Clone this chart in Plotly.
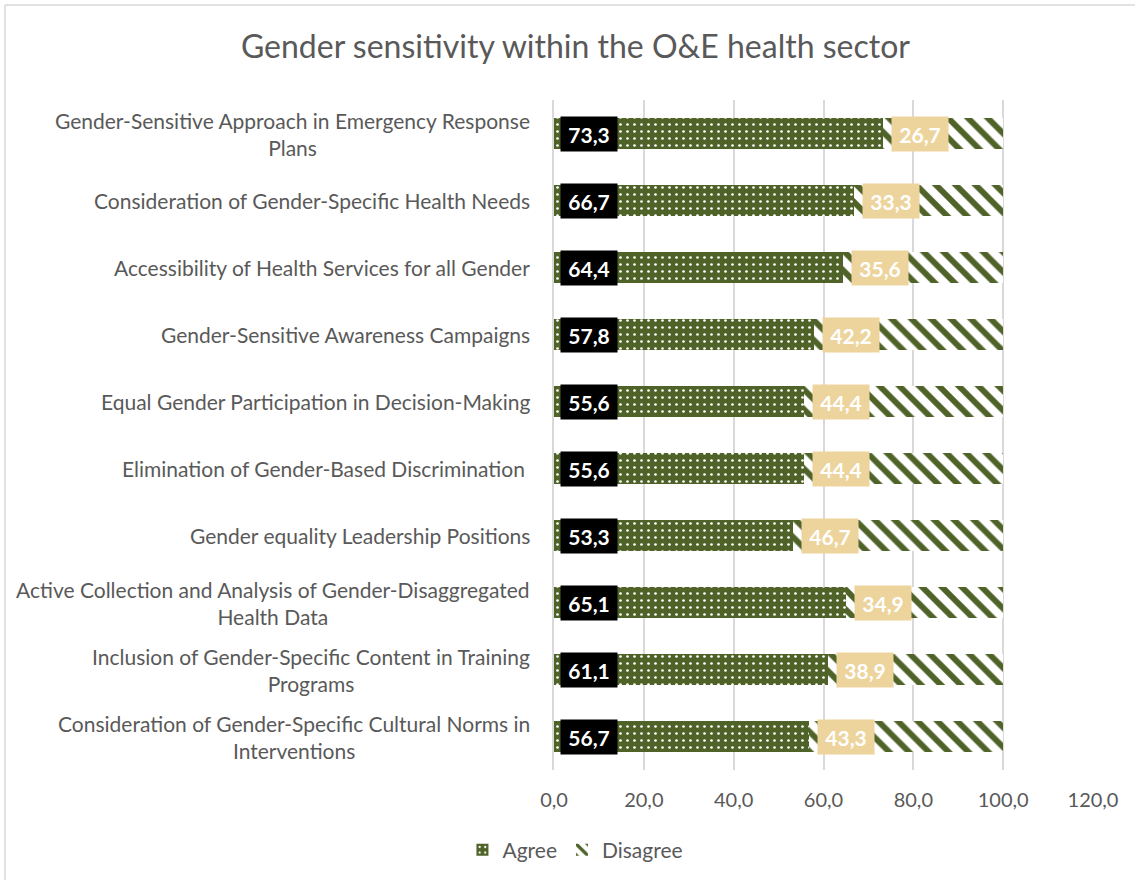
import plotly.graph_objects as go

categories = [
    "Gender-Sensitive Approach in Emergency Response<br>Plans",
    "Consideration of Gender-Specific Health Needs",
    "Accessibility of Health Services for all Gender",
    "Gender-Sensitive Awareness Campaigns",
    "Equal Gender Participation in Decision-Making",
    "Elimination of Gender-Based Discrimination\u00a0",
    "Gender equality Leadership Positions",
    "Active Collection and Analysis of Gender-Disaggregated<br>Health Data",
    "Inclusion of Gender-Specific Content in Training<br>Programs",
    "Consideration of Gender-Specific Cultural Norms in<br>Interventions",
]
agree = [73.3, 66.7, 64.4, 57.8, 55.6, 55.6, 53.3, 65.1, 61.1, 56.7]
disagree = [26.7, 33.3, 35.6, 42.2, 44.4, 44.4, 46.7, 34.9, 38.9, 43.3]
x_ticks = [0, 20, 40, 60, 80, 100, 120]

OLIVE = "#4F6228"
TAN = "#EDD49C"
GREY = "#595959"
FONT = "Lato"

fig = go.Figure()
fig.add_trace(go.Bar(
    name="Agree", y=categories, x=agree, orientation="h", width=0.45,
    marker=dict(color=OLIVE, line=dict(width=0),
                pattern=dict(shape=".", fgcolor="white", bgcolor=OLIVE,
                             size=7, solidity=0.12, fillmode="replace")),
))
fig.add_trace(go.Bar(
    name="Disagree", y=categories, x=disagree, orientation="h", width=0.45,
    marker=dict(color="white", line=dict(width=0),
                pattern=dict(shape="\\", fgcolor=OLIVE, bgcolor="white",
                             size=14, solidity=0.42, fillmode="replace")),
))

def fmt(v):
    return f"{v:.1f}".replace(".", ",")

annotations = []
for cat, a, d in zip(categories, agree, disagree):
    # category label, lines centred on each other
    annotations.append(dict(
        x=0, y=cat, xref="paper", yref="y", text=cat,
        showarrow=False, xanchor="right", yanchor="middle", xshift=-22,
        align="center", font=dict(color=GREY, size=21, family=FONT),
    ))
    annotations.append(dict(
        x=0, y=cat, xref="x", yref="y", text=f"<b>{fmt(a)}</b>",
        showarrow=False, xanchor="left", yanchor="middle", xshift=6,
        bgcolor="black", font=dict(color="white", size=21, family=FONT),
        width=48, height=26, borderpad=4, align="center",
    ))
    annotations.append(dict(
        x=a, y=cat, xref="x", yref="y", text=f"<b>{fmt(d)}</b>",
        showarrow=False, xanchor="left", yanchor="middle", xshift=8,
        bgcolor=TAN, font=dict(color="white", size=21, family=FONT),
        width=48, height=26, borderpad=4, align="center",
    ))

fig.update_layout(
    width=1135, height=880,
    barmode="stack",
    separators=",.",
    paper_bgcolor="white", plot_bgcolor="white",
    margin=dict(l=554, r=42, t=100, b=110),
    font=dict(family=FONT, color=GREY, size=19),
    title=dict(text="Gender sensitivity within the O&E health sector",
               x=0.507, xref="container", xanchor="center",
               y=0.947, yref="container", yanchor="middle",
               font=dict(size=32, color=GREY, family=FONT)),
    legend=dict(orientation="h", x=0.507, xref="container", xanchor="center",
                y=0.034, yref="container", yanchor="middle",
                font=dict(size=21, color=GREY), itemwidth=30,
                traceorder="normal"),
    annotations=annotations,
    shapes=[
        dict(type="line", xref="paper", yref="paper",
             x0=-1.0186, x1=1.1, y0=1.1418, y1=1.1418,
             line=dict(color="#D9D9D9", width=1.5)),
        dict(type="line", xref="paper", yref="paper",
             x0=-1.0186, x1=-1.0186, y0=1.1418, y1=-0.2,
             line=dict(color="#D9D9D9", width=1.5)),
    ],
)
fig.update_xaxes(range=[0, 120], tickvals=x_ticks, tickformat=".1f",
                 showgrid=True, gridcolor="#D9D9D9", gridwidth=1.5,
                 zeroline=False, showline=False, ticks="",
                 ticklabelstandoff=16, tickfont=dict(size=20, color=GREY))
fig.update_yaxes(autorange="reversed", showgrid=False, zeroline=False,
                 showline=True, linecolor="#D9D9D9", linewidth=1.5,
                 ticks="", showticklabels=False)

fig.write_html("out.html")
